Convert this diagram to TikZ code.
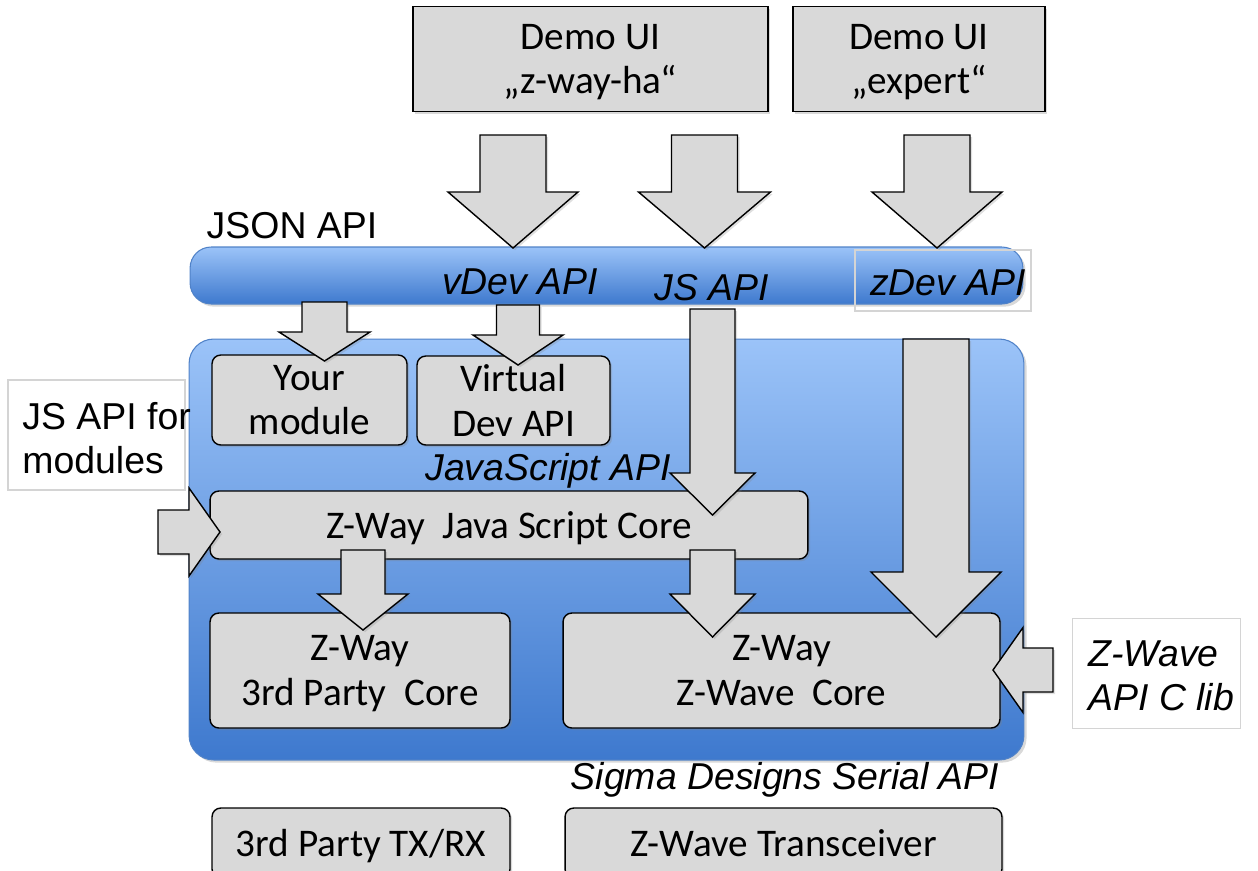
\documentclass[tikz,border=0pt]{standalone}
\usepackage{fontspec}
\setmainfont{Carlito}
\newfontfamily\arialfont{Liberation Sans}
\usepackage{tikz}
\usetikzlibrary{calc,shadows}
\definecolor{zwgray}{RGB}{217,217,217}
\definecolor{zwbluetop}{RGB}{155,195,248}
\definecolor{zwbluebot}{RGB}{62,121,206}
\definecolor{zwblueline}{RGB}{80,130,200}
\definecolor{zwframe}{RGB}{212,212,212}
\tikzstyle{module} = [rectangle, draw=black, fill=zwgray, line width=0.8pt, rounded corners=5pt, align=center, text depth=0pt, font=\fontsize{22.3}{25.5}\selectfont, drop shadow={shadow xshift=1.2pt, shadow yshift=-1.2pt, opacity=0.3}]
\tikzstyle{uibox} = [module, rounded corners=0pt]
\tikzstyle{layer} = [rectangle, draw=zwblueline, line width=0.6pt, top color=zwbluetop, bottom color=zwbluebot, drop shadow={shadow xshift=1.5pt, shadow yshift=-1.5pt, opacity=0.3}]
\tikzstyle{plainlabel} = [font=\arialfont\fontsize{21.3}{25}\selectfont, inner sep=0pt]
\tikzstyle{apilabel} = [font=\arialfont\itshape\fontsize{21.3}{25}\selectfont, inner sep=0pt]
\tikzstyle{labelframe} = [rectangle, draw=zwframe, line width=0.6pt]
\tikzstyle{blockarrow} = [draw=black, fill=zwgray, line width=0.8pt, line join=miter, drop shadow={shadow xshift=1.2pt, shadow yshift=-1.2pt, opacity=0.25}]

% block arrow pointing down: start, tip, shaft half, head half, head length (px)
\newcommand{\blockdown}[5]{%
  \draw[blockarrow] let \p1=(#1), \p2=(#2) in
    ({\x1-#3*0.02cm},\y1) -- ({\x1+#3*0.02cm},\y1) -- ({\x1+#3*0.02cm},{\y2+#5*0.02cm})
    -- ({\x1+#4*0.02cm},{\y2+#5*0.02cm}) -- (\x2,\y2) -- ({\x1-#4*0.02cm},{\y2+#5*0.02cm})
    -- ({\x1-#3*0.02cm},{\y2+#5*0.02cm}) -- cycle;}
% block arrow sideways: start, tip, shaft half, head half, signed head length (px)
\newcommand{\blockside}[5]{%
  \draw[blockarrow] let \p1=(#1), \p2=(#2) in
    (\x1,{\y1+#3*0.02cm}) -- ({\x2-(#5)*0.02cm},{\y1+#3*0.02cm}) -- ({\x2-(#5)*0.02cm},{\y1+#4*0.02cm})
    -- (\x2,\y2) -- ({\x2-(#5)*0.02cm},{\y1-#4*0.02cm}) -- ({\x2-(#5)*0.02cm},{\y1-#3*0.02cm})
    -- (\x1,{\y1-#3*0.02cm}) -- cycle;}

\begin{document}
\begin{tikzpicture}[x=0.02cm, y=-0.02cm]
    \useasboundingbox (0,0) rectangle (1258,870);

    % Demo UIs
    \node[uibox, minimum width=7.1cm, minimum height=2.1cm] (demoha) at (590.5,59) {Demo UI\\„z-way-ha“};
    \node[uibox, minimum width=5.04cm, minimum height=2.1cm] (demoex) at (919,59) {Demo UI\\„expert“};

    % JSON API layer
    \node[plainlabel, anchor=base] (json) at (292,238) {JSON API};
    \node[layer, rounded corners=12pt, minimum width=16.66cm, minimum height=1.14cm] (bar) at (606.5,275.5) {};
    \node[apilabel, anchor=base] (vdev) at (520,294) {vDev API};
    \node[apilabel, anchor=base] (jsapi) at (712,300) {JS API};
    \node[labelframe, minimum width=3.52cm, minimum height=1.22cm] (zdevframe) at (943,280.5) {};
    \node[apilabel, anchor=base] (zdev) at (948,295) {zDev API};

    % Z-Way
    \node[layer, rounded corners=14pt, minimum width=16.7cm, minimum height=8.42cm] (zway) at (606.5,549.5) {};
    \node[module, minimum width=3.9cm, minimum height=1.8cm] (yourmod) at (309.5,400) {Your\\module};
    \node[module, minimum width=3.86cm, minimum height=1.78cm] (virtdev) at (513.5,400.5) {Virtual\\Dev API};
    \node[apilabel, anchor=base] (jsapilabel) at (548,480) {JavaScript API};
    \node[module, minimum width=11.96cm, minimum height=1.36cm] (jscore) at (509,525) {Z-Way~~Java Script Core};
    \node[module, minimum width=6cm, minimum height=2.3cm] (thirdcore) at (360,670.5) {Z-Way\\3rd Party~~Core};
    \node[module, minimum width=8.74cm, minimum height=2.3cm] (zwcore) at (781.5,670.5) {Z-Way\\Z-Wave~~Core};

    % side labels
    \node[labelframe, fill=white, minimum width=3.54cm, minimum height=2.2cm] (jsmodframe) at (96.5,435) {};
    \node[plainlabel, anchor=west, align=left] (jsmod) at (22,438) {JS API for\\modules};
    \node[labelframe, fill=white, minimum width=3.36cm, minimum height=2.2cm] (clibframe) at (1156.5,673.5) {};
    \node[apilabel, anchor=west, align=left] (clib) at (1088,676) {Z-Wave\\API C lib};
    \node[apilabel, anchor=base] (serial) at (785,789) {Sigma Designs Serial API};

    % Transceivers
    \node[module, minimum width=5.96cm, minimum height=1.4cm] (thirdtx) at (361,843) {3rd Party TX/RX};
    \node[module, minimum width=8.74cm, minimum height=1.4cm] (zwtx) at (783.5,843) {Z-Wave Transceiver};

    % Arrows
    \coordinate (ha-out) at (513,135);   \coordinate (ha-in) at (513,248);
    \coordinate (js-out) at (704.5,135); \coordinate (js-in) at (704.5,248);
    \coordinate (ex-out) at (937,135);   \coordinate (ex-in) at (937,248);
    \coordinate (mod-out) at (324.5,302); \coordinate (mod-in) at (324.5,361);
    \coordinate (vdev-out) at (518,305); \coordinate (vdev-in) at (518,365);
    \coordinate (jsapi-out) at (712.5,309); \coordinate (jsapi-in) at (712.5,515);
    \coordinate (zdev-out) at (936,339); \coordinate (zdev-in) at (936,637);
    \coordinate (core3-out) at (363,550); \coordinate (core3-in) at (363,630);
    \coordinate (corezw-out) at (712.5,550); \coordinate (corezw-in) at (712.5,637);
    \coordinate (jsmod-out) at (158,532); \coordinate (jsmod-in) at (220,532);
    \coordinate (clib-out) at (1053,670); \coordinate (clib-in) at (993,670);

    \blockdown{ha-out}{ha-in}{33}{65}{56}
    \blockdown{js-out}{js-in}{33}{66}{56}
    \blockdown{ex-out}{ex-in}{33}{65}{56}
    \blockdown{mod-out}{mod-in}{22.5}{45.5}{29}
    \blockdown{vdev-out}{vdev-in}{21.5}{45}{30}
    \blockdown{jsapi-out}{jsapi-in}{22.5}{42.5}{42}
    \blockdown{zdev-out}{zdev-in}{33}{65}{65}
    \blockdown{core3-out}{core3-in}{22}{45}{36}
    \blockdown{corezw-out}{corezw-in}{22.5}{42.5}{43}
    \blockside{jsmod-out}{jsmod-in}{22}{44}{31}
    \blockside{clib-out}{clib-in}{22}{42.5}{-30}
\end{tikzpicture}
\end{document}
